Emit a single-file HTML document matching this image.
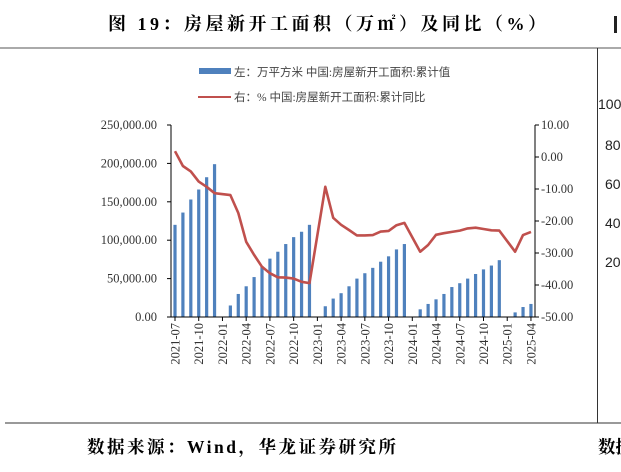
<!DOCTYPE html>
<html><head><meta charset="utf-8"><style>
body{margin:0;background:#fff;width:621px;height:472px;overflow:hidden;position:relative}
svg{position:absolute;left:0;top:0}
</style></head><body>
<svg width="621" height="472">
<text x="108" y="30" font-family="'Liberation Serif','Noto Serif CJK SC',serif" font-weight="bold" font-size="18" letter-spacing="3.5">图 19：房屋新开工面积（万㎡）及同比（%）</text>
<rect x="614" y="16" width="3" height="17" fill="#222"/>
<line x1="0" y1="48" x2="621" y2="48" stroke="#777" stroke-width="1.2"/>
<line x1="5" y1="423" x2="621" y2="423" stroke="#333" stroke-width="1"/>
<line x1="597.5" y1="48" x2="597.5" y2="423" stroke="#333" stroke-width="1"/>
<g font-family="'Liberation Sans',sans-serif" font-size="14" fill="#222">
<text x="598" y="109">100</text><text x="605" y="150">80</text><text x="605" y="189">60</text><text x="605" y="228">40</text><text x="605" y="267">20</text>
</g>
<g>
<rect x="199" y="68" width="32" height="6" fill="#4f81bd"/>
<text x="234" y="76" font-family="'Liberation Serif','Noto Sans CJK SC',serif" font-size="11.5" fill="#444">左：万平方米 中国:房屋新开工面积:累计值</text>
<line x1="198" y1="97" x2="231" y2="97" stroke="#c0504d" stroke-width="2"/>
<text x="234" y="101" font-family="'Liberation Serif','Noto Sans CJK SC',serif" font-size="11.5" fill="#444">右：% 中国:房屋新开工面积:累计同比</text>
</g>
<g id="plot"></g>
<text x="87" y="453" font-family="'Liberation Serif','Noto Serif CJK SC',serif" font-weight="bold" font-size="17.5" letter-spacing="2.5">数据来源：Wind，华龙证券研究所</text>
<text x="598" y="453" font-family="'Liberation Serif','Noto Serif CJK SC',serif" font-weight="bold" font-size="17.5">数据</text>
</svg>
<script>
const months=["2021-07","2021-08","2021-09","2021-10","2021-11","2021-12","2022-01","2022-02","2022-03","2022-04","2022-05","2022-06","2022-07","2022-08","2022-09","2022-10","2022-11","2022-12","2023-01","2023-02","2023-03","2023-04","2023-05","2023-06","2023-07","2023-08","2023-09","2023-10","2023-11","2023-12","2024-01","2024-02","2024-03","2024-04","2024-05","2024-06","2024-07","2024-08","2024-09","2024-10","2024-11","2024-12","2025-01","2025-02","2025-03","2025-04"];
const areaValues=[120000,136000,153000,166000,182000,199000,null,15000,30000,40000,52000,66000,76000,85000,95000,104000,111000,120000,null,14000,24000,31000,40000,50000,57000,64000,72000,79000,88000,95000,null,10000,17000,23000,30000,39000,44000,50000,56000,62000,67000,74000,null,6000,13000,17000];
const yoyValues=[1.8,-2.8,-4.5,-7.7,-9.3,-11.3,null,-11.9,-17.5,-26.5,-30.6,-34.3,-36.3,-37.6,-37.7,-38.0,-39.0,-39.4,null,-9.3,-19.0,-21.2,-22.8,-24.5,-24.5,-24.4,-23.3,-23.1,-21.3,-20.6,null,-29.6,-27.5,-24.3,-23.8,-23.4,-23.0,-22.3,-22.1,-22.5,-22.9,-23.0,null,-29.6,-24.4,-23.4];
const leftTicks=[0,50000,100000,150000,200000,250000];
const leftTickLabels=["0.00","50,000.00","100,000.00","150,000.00","200,000.00","250,000.00"];
const rightTicks=[-50,-40,-30,-20,-10,0,10];
const rightTickLabels=["-50.00","-40.00","-30.00","-20.00","-10.00","0.00","10.00"];
const NS="http://www.w3.org/2000/svg";
const g=document.getElementById('plot');
const X0=171,X1=535,YT=125,YB=317;
const xStep=7.91,xFirst=175;
const xs=i=>xFirst+i*xStep;
const yL=v=>YB-(v/250000)*(YB-YT);
const yR=v=>YB-((v+50)/60)*(YB-YT);
function mk(t,a){const e=document.createElementNS(NS,t);for(const k in a)e.setAttribute(k,a[k]);g.appendChild(e);return e;}
areaValues.forEach((v,i)=>{if(v==null)return;
 const r=mk('rect',{x:xs(i)-1.6,y:yL(v),width:3.2,height:YB-yL(v),fill:'#4f81bd'});
 
 });
let d='';yoyValues.forEach((v,i)=>{if(v==null)return;d+=(d?'L':'M')+xs(i).toFixed(1)+','+yR(v).toFixed(1);});
const p=mk('path',{d:d,fill:'none',stroke:'#c0504d','stroke-width':2.6,'stroke-linejoin':'round'});


const la=mk('line',{x1:X0,y1:YT,x2:X0,y2:YB,stroke:'#000'});


const ra=mk('line',{x1:X1,y1:YT,x2:X1,y2:YB,stroke:'#000'});


const xa=mk('line',{x1:X0,y1:YB,x2:X1,y2:YB,stroke:'#000'});


const font="'Liberation Serif',serif";
leftTicks.forEach((v,i)=>{mk('line',{x1:X0-4,y1:yL(v),x2:X0,y2:yL(v),stroke:'#000'});
 const t=mk('text',{x:X0-14,y:yL(v)+4,'text-anchor':'end','font-family':font,'font-size':12.5,fill:'#333'});t.textContent=leftTickLabels[i];
 
 });
rightTicks.forEach((v,i)=>{mk('line',{x1:X1,y1:yR(v),x2:X1+4,y2:yR(v),stroke:'#000'});
 const t=mk('text',{x:X1+6,y:yR(v)+4,'font-family':font,'font-size':12.5,fill:'#333'});t.textContent=rightTickLabels[i];
 
 });
months.forEach((m,i)=>{if(i%3)return;const x=xs(i);
 mk('line',{x1:x,y1:YB,x2:x,y2:YB+4,stroke:'#000'});
 const t=mk('text',{x:0,y:0,'text-anchor':'end','font-family':font,'font-size':12.5,fill:'#333',transform:`translate(${x+4.5},${YB+6}) rotate(-90)`});t.textContent=m;
 
 });
</script>
</body></html>
